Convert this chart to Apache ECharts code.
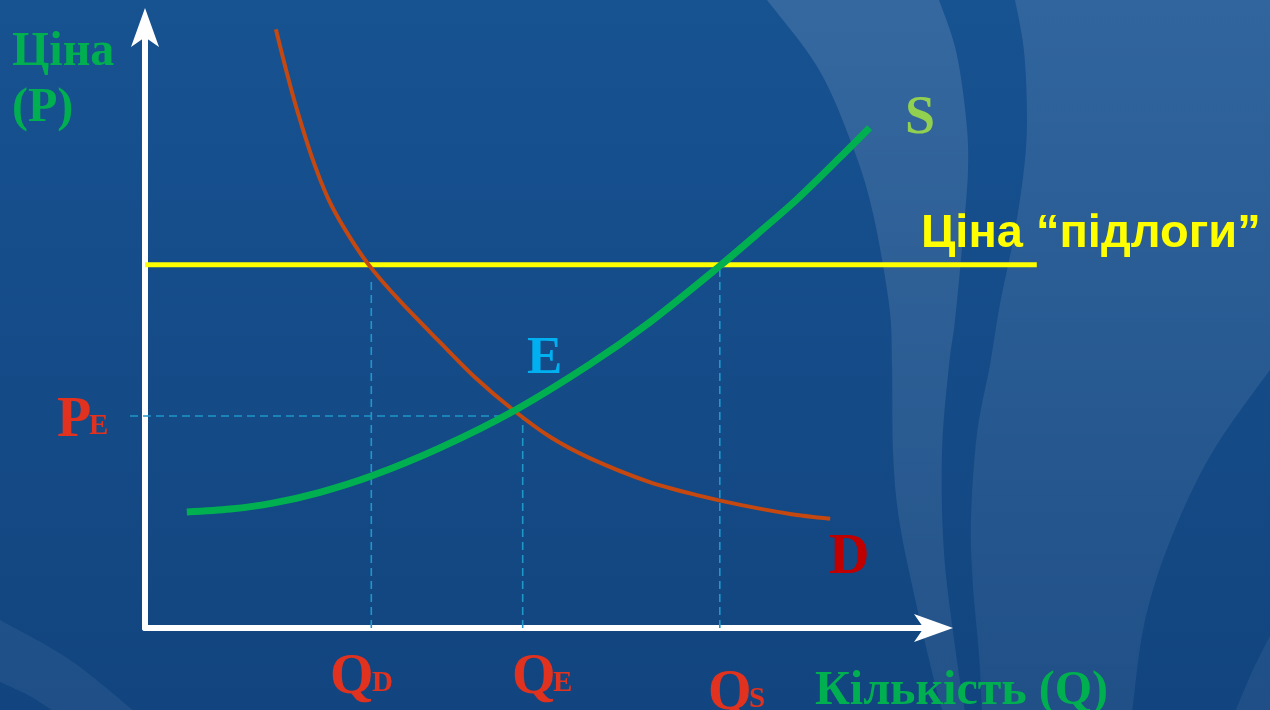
<!DOCTYPE html>
<html>
<head>
<meta charset="utf-8">
<script src="https://cdn.jsdelivr.net/npm/echarts@6/dist/echarts.min.js"></script>
<style>
html,body{margin:0;padding:0;background:#164d8c;}
#chart{width:1270px;height:710px;}
</style>
</head>
<body>
<div id="chart"></div>
<script>
// ---- data (Q = quantity, P = price; plotted on a 0..100 price scale) ----
const demandQ = [16.6, 17.9, 19.3, 21.2, 23.2, 25.4, 28.3, 32.3, 37.4, 41.8, 46.7, 51.4, 56.4, 64.0, 70.4, 75.5, 81.8, 86.9];
const demandP = [99.7, 92.9, 86.2, 78.3, 71.6, 66.3, 60.6, 54.5, 47.6, 41.8, 36.3, 31.8, 28.3, 24.3, 22.0, 20.5, 19.0, 18.2];
const supplyQ = [5.3, 10.8, 16.2, 22.2, 28.7, 37.4, 46.7, 56.4, 64.0, 72.9, 78.0, 82.7, 88.1, 91.9];
const supplyP = [19.3, 19.8, 20.8, 22.6, 25.3, 30.0, 36.1, 43.9, 50.9, 60.3, 66.0, 71.4, 78.3, 83.3];
const floorPrice = 60.5;
const floorQ = [0, 113.1];
const equilibriumP = 35.3;
const equilibriumPRange = [-1.9, 45.4];
const quantityD = 28.7, quantityDTop = 58.1;
const quantityE = 47.9, quantityETop = 35.2;
const quantityS = 72.9, quantitySTop = 59.6;
const labels = {
  yTitle1: 'Ціна', yTitle2: '(P)', xTitle: 'Кількість (Q)',
  floor: 'Ціна “підлоги”', S: 'S', D: 'D', E: 'E',
  P: 'P', Q: 'Q', subE: 'E', subD: 'D', subS: 'S'
};

// ---- helpers ----
function zip(a, b) { return a.map((v, i) => [v, b[i]]); }
function sampleCurve(pts) {
  const out = [pts[0]];
  for (let i = 0; i < pts.length - 1; i++) {
    const p0 = pts[i - 1] || pts[i], p1 = pts[i], p2 = pts[i + 1], p3 = pts[i + 2] || p2;
    const c1 = [p1[0] + (p2[0] - p0[0]) / 6, p1[1] + (p2[1] - p0[1]) / 6];
    const c2 = [p2[0] - (p3[0] - p1[0]) / 6, p2[1] - (p3[1] - p1[1]) / 6];
    for (let k = 1; k <= 12; k++) {
      const t = k / 12, u = 1 - t;
      out.push([
        u*u*u*p1[0] + 3*u*u*t*c1[0] + 3*u*t*t*c2[0] + t*t*t*p2[0],
        u*u*u*p1[1] + 3*u*u*t*c1[1] + 3*u*t*t*c2[1] + t*t*t*p2[1]
      ]);
    }
  }
  return out;
}
const serif = '"Liberation Serif", "Times New Roman", serif';
const sans = '"Liberation Sans", Arial, sans-serif';
function txt(str, x, baseline, fs, color, family, k) {
  return {
    type: 'text', x: x, y: baseline - k * fs, z: 100, silent: true,
    style: {
      text: str, fill: color, fontSize: fs, fontWeight: 'bold', fontFamily: family,
      textAlign: 'left', textVerticalAlign: 'middle'
    }
  };
}
function st(str, x, baseline, fs, color) { return txt(str, x, baseline, fs, color, serif, 0.19); }
function lightFill(a1, a2) {
  return new echarts.graphic.LinearGradient(0, 0, 0, 1, [
    { offset: 0, color: 'rgba(255,255,255,' + a1 + ')' },
    { offset: 1, color: 'rgba(255,255,255,' + a2 + ')' }]);
}
function poly(points, fill) {
  return { type: 'polygon', z: -90, silent: true, shape: { points: points }, style: { fill: fill } };
}

// background swooshes (decoration)
const bandL = [[767,0],[818,68],[851,142],[872,209],[889,304],[892,365],[893,451],[899,519],[916,603],[936,688],[943,712]];
const bandR = [[965,712],[956,654],[944,553],[942,451],[949,365],[955,320],[963,236],[968,169],[966,118],[956,51],[939,0]];
const regionL = [[1015,0],[1024,51],[1027,118],[1024,169],[1014,236],[1000,304],[990,365],[977,434],[971,519],[973,586],[979,654],[982,712]];
const regionR = [[1132,712],[1145,620],[1172,536],[1213,451],[1272,367]];
const shapeA = sampleCurve(bandL).concat(sampleCurve(bandR));
const shapeB = sampleCurve(regionL).concat(sampleCurve(regionR)).concat([[1272,0]]);
const shapeC = sampleCurve([[1235,712],[1252,672],[1272,632]]).concat([[1272,712]]);
const shapeDl = sampleCurve([[0,620],[70,660],[135,712]]).concat(sampleCurve([[55,712],[28,695],[0,682]]));

const chart = echarts.init(document.getElementById('chart'), null, { renderer: 'canvas' });

const dashStyle = { color: '#1f97c9', width: 1.6, type: [8, 5] };
function onPlot(s) { s.xAxisIndex = 1; s.yAxisIndex = 1; s.showSymbol = false; s.silent = true; return s; }
function dashed(data) {
  return onPlot({ type: 'line', data: data, z: 1, lineStyle: dashStyle });
}
const hiddenAxis = { show: false, type: 'value' };
const arrowAxis = {
  type: 'value', min: 0, max: 1,
  axisLine: { show: true, onZero: false, lineStyle: { color: '#ffffff', width: 6 },
              symbol: ['none', 'arrow'], symbolSize: [21, 39], symbolOffset: [0, 15] },
  axisTick: { show: false }, axisLabel: { show: false }, splitLine: { show: false }
};

const option = {
  animation: false,
  grid: [
    { left: 145, right: 332, top: 23, bottom: 82 },          // white arrow axes
    { left: 66.15, right: 178.8, top: 27.5, bottom: 82 }     // plotting area
  ],
  xAxis: [
    Object.assign({ gridIndex: 0 }, arrowAxis),
    Object.assign({ gridIndex: 1, min: -10, max: 120 }, hiddenAxis)
  ],
  yAxis: [
    Object.assign({ gridIndex: 0 }, arrowAxis),
    Object.assign({ gridIndex: 1, min: 0, max: 100 }, hiddenAxis)
  ],
  graphic: [
    { type: 'rect', z: -100, silent: true, shape: { x: 0, y: 0, width: 1270, height: 710 },
      style: { fill: new echarts.graphic.LinearGradient(0, 0, 0, 1, [
        { offset: 0, color: '#175291' }, { offset: 1, color: '#12457f' }]) } },
    poly(shapeA, lightFill(0.13, 0.07)),
    poly(shapeB, lightFill(0.11, 0.06)),
    poly(shapeC, 'rgba(255,255,255,0.06)'),
    poly(shapeDl, 'rgba(255,255,255,0.06)'),
    st(labels.yTitle1, 12, 62, 48, '#00b050'),
    st(labels.yTitle2, 12, 118, 48, '#00b050'),
    st(labels.xTitle, 815, 701, 48, '#00b050'),
    txt(labels.floor, 921, 246, 47, '#ffff00', sans, 0.26),
    st(labels.S, 905, 129, 54, '#92d050'),
    st(labels.D, 829, 569, 56, '#c00000'),
    st(labels.E, 527, 369, 53, '#00b0f0'),
    st(labels.P, 57, 432, 56, '#e0321e'),
    st(labels.subE, 89, 432, 29, '#e0321e'),
    st(labels.Q, 330, 689, 56, '#e0321e'),
    st(labels.subD, 372, 689, 29, '#e0321e'),
    st(labels.Q, 512, 689, 56, '#e0321e'),
    st(labels.subE, 553, 689, 29, '#e0321e'),
    st(labels.Q, 708, 705, 56, '#e0321e'),
    st(labels.subS, 749, 705, 29, '#e0321e')
  ],
  series: [
    dashed([[equilibriumPRange[0], equilibriumP], [equilibriumPRange[1], equilibriumP]]),
    dashed([[quantityD, 0], [quantityD, quantityDTop]]),
    dashed([[quantityE, 0], [quantityE, quantityETop]]),
    dashed([[quantityS, 0], [quantityS, quantitySTop]]),
    onPlot({ type: 'line', data: [[floorQ[0], floorPrice], [floorQ[1], floorPrice]], z: 2,
      lineStyle: { color: '#ffff00', width: 5 } }),
    onPlot({ type: 'line', data: zip(demandQ, demandP), smooth: 0.3, z: 3,
      lineStyle: { color: '#c4480f', width: 4, cap: 'butt' } }),
    onPlot({ type: 'line', data: zip(supplyQ, supplyP), smooth: 0.3, z: 4,
      lineStyle: { color: '#00b050', width: 7, cap: 'butt' } })
  ]
};
chart.setOption(option);
</script>
</body>
</html>
